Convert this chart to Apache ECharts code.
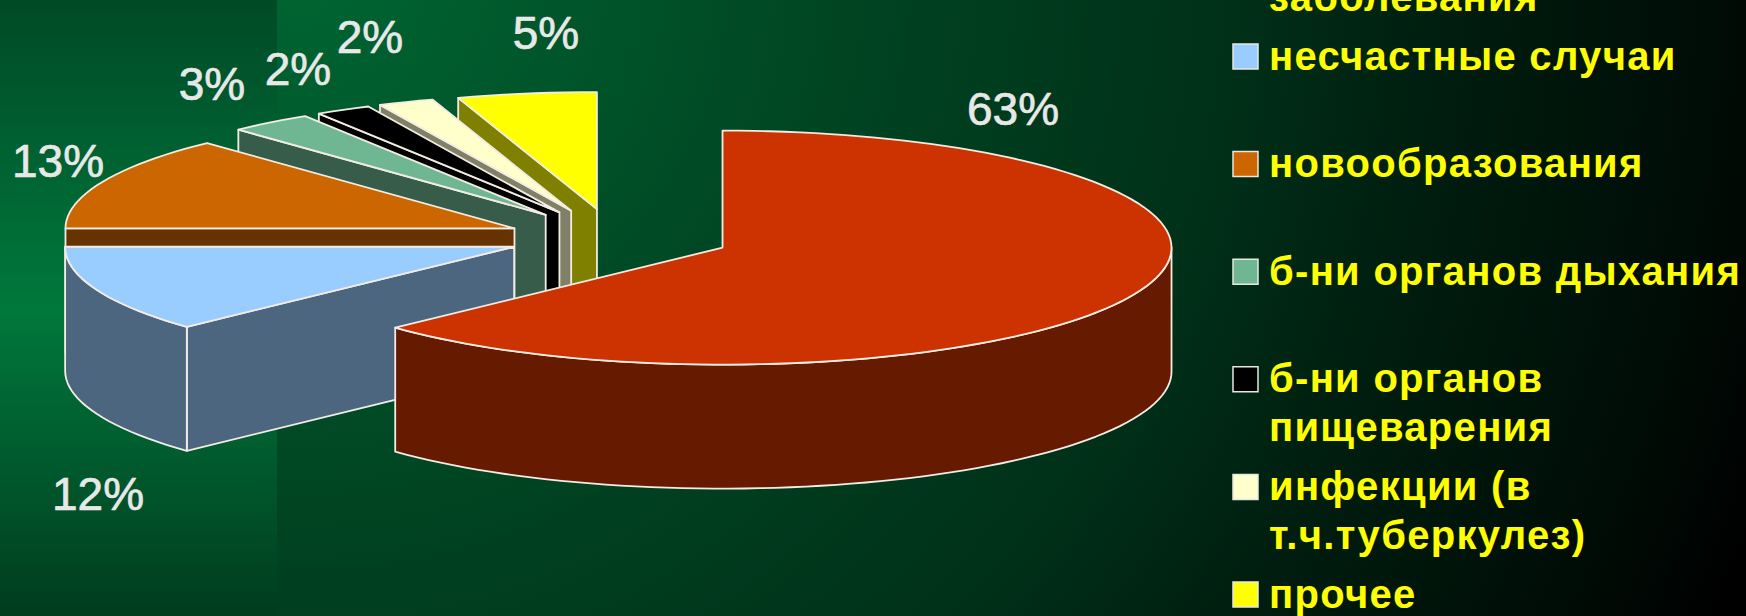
<!DOCTYPE html>
<html>
<head>
<meta charset="utf-8">
<style>
  html, body { margin: 0; padding: 0; background: #000; overflow: hidden; }
  #chart { width: 1746px; height: 616px; }
  /* Legend captions are set with slightly open tracking */
  text[style*="bold"] { letter-spacing: 1.3px; }
</style>
<script src="https://cdn.jsdelivr.net/npm/echarts@6/dist/echarts.min.js"></script>
</head>
<body>
<div id="chart"></div>
<script>
// Cause-of-death shares, percent
const categories = [
  'сердечно-сосудистые\nзаболевания',
  'несчастные случаи',
  'новообразования',
  'б-ни органов дыхания',
  'б-ни органов\nпищеварения',
  'инфекции (в\nт.ч.туберкулез)',
  'прочее'
];
const shares = [63, 12, 13, 3, 2, 2, 5];

const topColors = ['#CC3300', '#99CCFF', '#CC6600', '#6FB793', '#000000', '#FFFFCC', '#FFFF00'];
const sideColors = ['#661A00', '#4D667F', '#663300', '#385C4A', '#000000', '#808066', '#808000'];
const labelCenters = [[1013, 109], [98, 494], [58, 161], [212, 84], [298, 69], [370, 37], [546, 33]];
// Fine adjustment of each exploded slice's apex, in pixels
const apexNudge = [[1, 0], [0, 0], [-1, 4], [-4, 2], [-5, 2], [-6, 2], [-4, 2]];

// Projected pie geometry
const pie = { cx: 618.5, cy: 236, rx: 449, ry: 117, depth: 124, explode: 0.25 };
const edge = '#F2ECE4';
const rad = Math.PI / 180;
const total = shares.reduce((a, b) => a + b, 0);

const startAngles = [];
shares.reduce((acc, v, i) => { startAngles[i] = acc; return acc + v / total * 360; }, 0);

function rimPoint(o, a, dy) {
  return [o[0] + pie.rx * Math.sin(a * rad), o[1] - pie.ry * Math.cos(a * rad) + (dy || 0)];
}

function arcPoints(o, a, b, dy) {
  const pts = [];
  const n = Math.max(2, Math.ceil((b - a) / 2));
  for (let i = 0; i <= n; i++) pts.push(rimPoint(o, a + (b - a) * i / n, dy));
  return pts;
}

function poly(points, fill) {
  return { type: 'polygon', shape: { points }, silent: true,
    style: { fill, stroke: edge, lineWidth: 1.8, lineJoin: 'round' } };
}

function renderSlice(params, api) {
  const i = api.value(0);
  const a = startAngles[i];
  const b = a + shares[i] / total * 360;
  const mid = (a + b) / 2;
  const o = [
    pie.cx + pie.explode * pie.rx * Math.sin(mid * rad) + apexNudge[i][0],
    pie.cy - pie.explode * pie.ry * Math.cos(mid * rad) + apexNudge[i][1]
  ];
  const lower = [o[0], o[1] + pie.depth];
  const children = [];
  const face = (ang) => poly([o, rimPoint(o, ang), rimPoint(o, ang, pie.depth), lower], sideColors[i]);

  // Only the cut faces turned toward the viewer are drawn
  if (Math.sin(a * rad) < -1e-6) children.push(face(a));
  if (Math.sin(b * rad) > 1e-6) children.push(face(b));

  // Outer wall on the front half of the ellipse
  const ra = Math.max(a, 90), rb = Math.min(b, 270);
  if (rb > ra) {
    children.push(poly(arcPoints(o, ra, rb).concat(arcPoints(o, ra, rb, pie.depth).reverse()), sideColors[i]));
  }
  children.push(poly([o].concat(arcPoints(o, a, b)), topColors[i]));
  children.push({
    type: 'text', silent: true, x: labelCenters[i][0], y: labelCenters[i][1],
    style: { text: shares[i] + '%', font: '46px "Liberation Sans", Arial, sans-serif',
      fill: '#E8E8E8', stroke: '#E8E8E8', lineWidth: 0.7, align: 'center', verticalAlign: 'middle' }
  });
  return { type: 'group', children };
}

// Legend rows sit on an even pitch; the first row runs past the top of the slide
const legend = { x: 1233, swatch: 25, firstTop: -63.6, pitch: 107.6, textX: 1269, lineHeight: 49 };

function renderLegendRow(params, api) {
  const i = api.value(0);
  const top = legend.firstTop + legend.pitch * i;
  return {
    type: 'group',
    children: [
      { type: 'rect', silent: true,
        shape: { x: legend.x, y: top, width: legend.swatch, height: legend.swatch },
        style: { fill: topColors[i], stroke: '#E8E8E0', lineWidth: 1.5 } },
      { type: 'text', silent: true, x: legend.textX, y: top - 13,
        style: { text: categories[i], font: 'bold 40px "Liberation Sans", Arial, sans-serif',
          fill: '#FFFF00', align: 'left', verticalAlign: 'top', lineHeight: legend.lineHeight } }
    ]
  };
}

const indices = categories.map((_, i) => i);
const chart = echarts.init(document.getElementById('chart'), null, { renderer: 'svg' });
chart.setOption({
  animation: false,
  graphic: [
    { type: 'rect', z: -10, silent: true, shape: { x: 0, y: 0, width: 1746, height: 616 },
      style: { fill: new echarts.graphic.RadialGradient(300, -40, 1560, [
        { offset: 0, color: '#006632' },
        { offset: 0.4, color: '#004020' },
        { offset: 0.6, color: '#003018' },
        { offset: 0.72, color: '#001F10' },
        { offset: 0.93, color: '#000A05' },
        { offset: 1, color: '#000000' }
      ], true) } },
    { type: 'rect', z: -9, silent: true, shape: { x: 0, y: 0, width: 277, height: 616 },
      style: { fill: new echarts.graphic.LinearGradient(0, 0, 0, 1, [
        { offset: 0, color: '#004A26' },
        { offset: 0.5, color: '#00783C' },
        { offset: 1, color: '#003C1E' }
      ]) } }
  ],
  series: [
    { type: 'custom', coordinateSystem: 'none', renderItem: renderSlice,
      data: indices.slice().reverse().map(i => [i]), silent: true, clip: false },
    { type: 'custom', coordinateSystem: 'none', renderItem: renderLegendRow,
      data: indices.map(i => [i]), silent: true, clip: false }
  ]
});
</script>
</body>
</html>
